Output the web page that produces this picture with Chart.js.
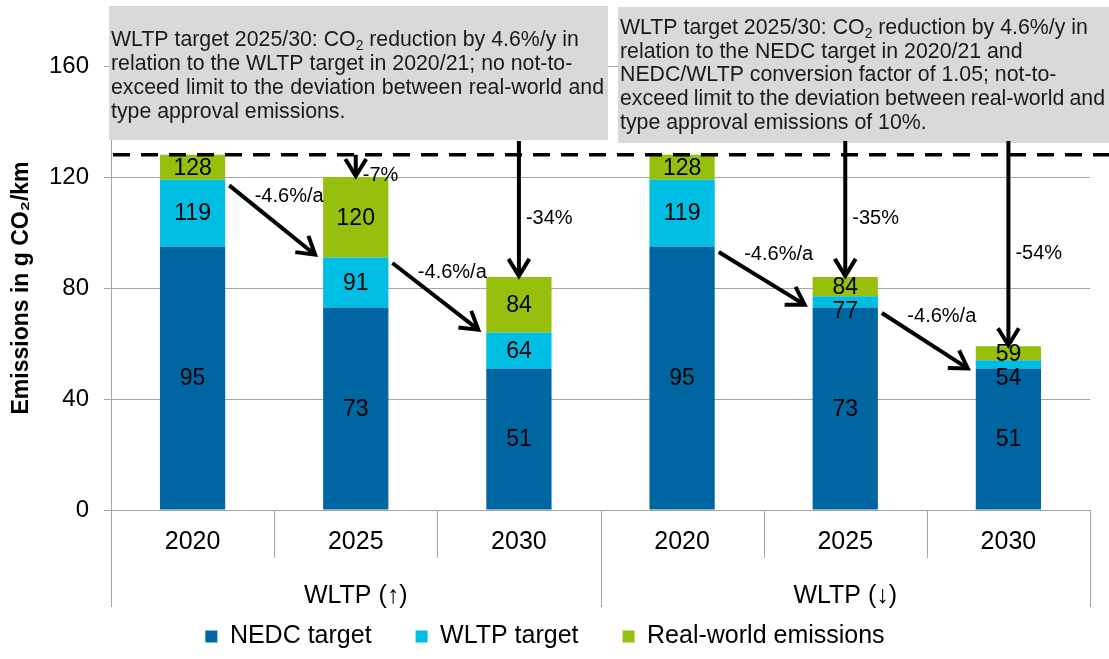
<!DOCTYPE html>
<html>
<head>
<meta charset="utf-8">
<script src="https://cdn.jsdelivr.net/npm/chart.js@4.4.1/dist/chart.umd.min.js"></script>
<style>
  html, body { margin: 0; padding: 0; background: #fff; }
  #wrap { width: 1109px; height: 659px; }
</style>
</head>
<body>
<div id="wrap"><canvas id="chart" width="1109" height="659"></canvas></div>
<script>
// chart data
const years = ['2020', '2025', '2030', '2020', '2025', '2030'];
const groups = ['WLTP (↑)', 'WLTP (↓)'];
const nedcTarget = [95, 73, 51, 95, 73, 51];
const wltpTarget = [119, 91, 64, 119, 77, 54];
const realWorld = [128, 120, 84, 128, 84, 59];
const yTicks = [0, 40, 80, 120, 160];
const refValue = 128;

// diagonal arrows: [from bar, from value, to bar, to value, label]
const slopeArrows = [
    [0, 117, 1, 92, '-4.6%/a'],
    [1, 89, 2, 65, '-4.6%/a'],
    [3, 93, 4, 74, '-4.6%/a'],
    [4, 71, 5, 51, '-4.6%/a']
];
// vertical arrows down to the real-world value: [bar, start value, label]
const dropArrows = [
    [1, 128, '-7%'],
    [2, 133, '-34%'],
    [4, 133, '-35%'],
    [5, 133, '-54%']
];

const noteLeft = [
    'WLTP target 2025/30: CO₂ reduction by 4.6%/y in',
    'relation to the WLTP target in 2020/21; no not-to-',
    'exceed limit to the deviation between real-world and',
    'type approval emissions.'
];
const noteRight = [
    'WLTP target 2025/30: CO₂ reduction by 4.6%/y in',
    'relation to the NEDC target in 2020/21 and',
    'NEDC/WLTP conversion factor of 1.05; not-to-',
    'exceed limit to the deviation between real-world and',
    'type approval emissions of 10%.'
];

const FONT = "'Liberation Sans', Arial, sans-serif";
Chart.defaults.font.family = FONT;
Chart.defaults.color = '#000';

const colors = ['#0066a1', '#00bde3', '#97bf0d'];
const gridGray = '#a6a6a6';

// text with subscript ₂ and optional justification
function richParts(word) {
    const parts = [];
    for (const ch of word) {
        const sub = ch === '₂';
        const t = sub ? '2' : ch;
        const last = parts[parts.length - 1];
        if (last && last.sub === sub) last.t += t;
        else parts.push({ t, sub });
    }
    return parts;
}
function richWidth(ctx, word, size) {
    let w = 0;
    for (const p of richParts(word)) {
        ctx.font = (p.sub ? size * 0.65 : size) + 'px ' + FONT;
        w += ctx.measureText(p.t).width;
    }
    return w;
}
function drawRichLine(ctx, text, x, y, size, justifyWidth) {
    const words = text.split(' ');
    ctx.font = size + 'px ' + FONT;
    let gap = ctx.measureText(' ').width;
    const widths = words.map(w => richWidth(ctx, w, size));
    if (justifyWidth) {
        const sum = widths.reduce((a, b) => a + b, 0);
        gap = (justifyWidth - sum) / (words.length - 1);
    }
    let cx = x;
    words.forEach((w, i) => {
        for (const p of richParts(w)) {
            const s = p.sub ? size * 0.65 : size;
            ctx.font = s + 'px ' + FONT;
            ctx.fillText(p.t, cx, p.sub ? y + size * 0.28 : y);
            cx += ctx.measureText(p.t).width;
        }
        cx += gap;
    });
}

function drawArrow(ctx, x1, y1, x2, y2) {
    const ang = Math.atan2(y2 - y1, x2 - x1);
    const head = 20;
    ctx.save();
    ctx.strokeStyle = '#000';
    ctx.lineWidth = 4;
    ctx.lineCap = 'butt';
    ctx.lineJoin = 'miter';
    ctx.beginPath();
    ctx.moveTo(x1, y1);
    ctx.lineTo(x2 - Math.cos(ang) * 2, y2 - Math.sin(ang) * 2);
    ctx.stroke();
    ctx.beginPath();
    ctx.moveTo(x2 - head * Math.cos(ang - 0.55), y2 - head * Math.sin(ang - 0.55));
    ctx.lineTo(x2, y2);
    ctx.lineTo(x2 - head * Math.cos(ang + 0.55), y2 - head * Math.sin(ang + 0.55));
    ctx.stroke();
    ctx.restore();
}

const annotations = {
    id: 'annotations',
    afterDatasetsDraw(chart) {
        const ctx = chart.ctx;
        const y = chart.scales.y;
        const area = chart.chartArea;
        const catW = (area.right - area.left) / years.length;
        const bars = chart.getDatasetMeta(0).data;

        ctx.save();
        // category dividers below the axis
        ctx.strokeStyle = gridGray;
        ctx.lineWidth = 1;
        for (let k = 0; k <= years.length; k++) {
            const px = Math.round(area.left + k * catW) + 0.5;
            const long = k % 3 === 0;
            ctx.beginPath();
            ctx.moveTo(px, area.bottom);
            ctx.lineTo(px, area.bottom + (long ? 97 : 48));
            ctx.stroke();
        }
        // group labels
        ctx.fillStyle = '#000';
        ctx.font = '25px ' + FONT;
        ctx.textAlign = 'center';
        ctx.textBaseline = 'middle';
        groups.forEach((g, gi) => {
            const cx = area.left + (gi * 3 + 1.5) * catW;
            ctx.fillText(g, cx, area.bottom + 86);
        });

        // value labels inside the stacked segments
        ctx.font = '23px ' + FONT;
        const series = [nedcTarget, wltpTarget, realWorld];
        years.forEach((yr, i) => {
            const centers = [0, 1, 2].map(d => {
                const el = chart.getDatasetMeta(d).data[i];
                return (el.y + el.base) / 2;
            });
            let c = centers[2];
            ctx.fillText(String(series[2][i]), bars[i].x, c + 1);
            for (let d = 1; d >= 0; d--) {
                c = Math.max(centers[d], c + 24);
                ctx.fillText(String(series[d][i]), bars[i].x, c + 1);
            }
        });

        // note boxes
        ctx.fillStyle = '#d9d9d9';
        ctx.fillRect(109, 6, 499, 134);
        ctx.fillRect(618, 7, 491, 136);
        ctx.fillStyle = '#1a1a1a';
        ctx.textAlign = 'left';
        const fs = 21.3;
        noteLeft.forEach((line, li) => {
            drawRichLine(ctx, line, 111, 40 + li * 24.2, fs, li === 2 ? 493 : null);
        });
        noteRight.forEach((line, li) => {
            drawRichLine(ctx, line, 620, 28 + li * 23.8, fs, li === 3 ? 485 : null);
        });

        // reference dashed line
        const yRef = y.getPixelForValue(refValue);
        ctx.strokeStyle = '#000';
        ctx.lineWidth = 3.5;
        ctx.setLineDash([17, 11]);
        ctx.beginPath();
        ctx.moveTo(area.left + 2, yRef);
        ctx.lineTo(chart.width, yRef);
        ctx.stroke();
        ctx.setLineDash([]);

        // slope arrows
        ctx.fillStyle = '#000';
        ctx.font = '20px ' + FONT;
        ctx.textAlign = 'center';
        slopeArrows.forEach(([a, va, b, vb, label]) => {
            const x1 = bars[a].x + bars[a].width / 2 + 4;
            const x2 = bars[b].x - bars[b].width / 2 - 8;
            const y1 = y.getPixelForValue(va);
            const y2 = y.getPixelForValue(vb);
            drawArrow(ctx, x1, y1, x2, y2);
            ctx.fillText(label, (x1 + x2) / 2 + 17, (y1 + y2) / 2 - 24);
        });

        // drop arrows
        ctx.textAlign = 'left';
        dropArrows.forEach(([i, v0, label]) => {
            const bx = bars[i].x;
            const y1 = y.getPixelForValue(v0);
            const y2 = y.getPixelForValue(realWorld[i]) - 1;
            drawArrow(ctx, bx, y1, bx, y2);
            ctx.fillText(label, bx + 7, (y1 + y2) / 2 + 10);
        });
        ctx.restore();
    }
};

new Chart(document.getElementById('chart'), {
    type: 'bar',
    data: {
        labels: years,
        datasets: [
            { label: 'NEDC target', data: nedcTarget, backgroundColor: colors[0] },
            { label: 'WLTP target', data: wltpTarget.map((v, i) => v - nedcTarget[i]), backgroundColor: colors[1] },
            { label: 'Real-world emissions', data: realWorld.map((v, i) => v - wltpTarget[i]), backgroundColor: colors[2] }
        ]
    },
    options: {
        responsive: false,
        animation: false,
        barPercentage: 0.4,
        categoryPercentage: 1,
        layout: { padding: { left: 0, right: 19, top: 66, bottom: 0 } },
        plugins: {
            legend: {
                position: 'bottom',
                labels: { boxWidth: 12, boxHeight: 12, padding: 44, font: { size: 25 }, color: '#000' }
            },
            tooltip: { enabled: false }
        },
        scales: {
            x: {
                stacked: true,
                grid: { display: false, drawTicks: false },
                border: { color: gridGray },
                ticks: { font: { size: 25 }, color: '#000', padding: 17 },
                afterFit(s) { s.height = 70; }
            },
            y: {
                stacked: true,
                min: yTicks[0],
                max: yTicks[yTicks.length - 1],
                ticks: { stepSize: 40, font: { size: 24 }, color: '#000', padding: 15 },
                grid: { color: gridGray, tickLength: 7 },
                border: { color: gridGray },
                title: {
                    display: true,
                    text: 'Emissions in g CO₂/km',
                    font: { size: 23, weight: 'bold' },
                    color: '#000',
                    padding: { top: 8, bottom: 0 }
                },
                afterFit(s) { s.width = 111; }
            }
        }
    },
    plugins: [annotations]
});
</script>
</body>
</html>
